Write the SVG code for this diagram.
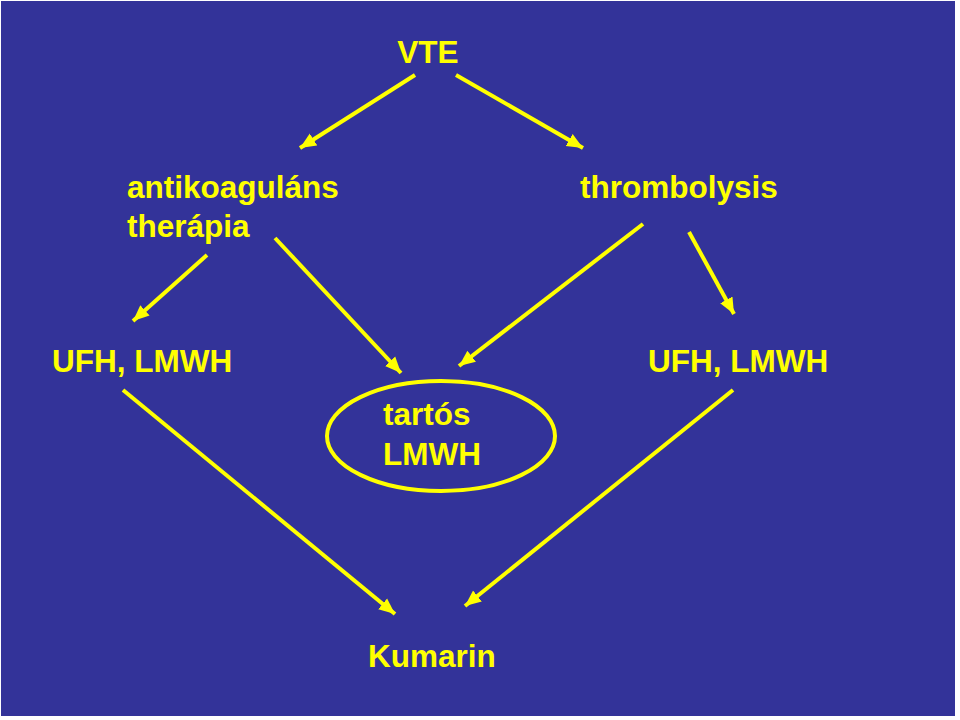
<svg xmlns="http://www.w3.org/2000/svg" width="960" height="720" viewBox="0 0 960 720">
<style>
.t{font-family:"Liberation Sans",Arial,sans-serif;font-weight:bold;font-size:31.5px;fill:#FFFF00}
.c{stroke:#FFFF00;stroke-width:4;fill:none;marker-end:url(#ah)}
</style>
<defs>
<marker id="ah" markerUnits="userSpaceOnUse" markerWidth="18" markerHeight="16" refX="16" refY="8" orient="auto">
<path d="M0,1 L16,8 L0,15 Z" fill="#FFFF00"/>
</marker>
</defs>
<rect x="0" y="0" width="960" height="720" fill="#ffffff"/>
<rect x="1" y="1" width="954" height="715" fill="#333399"/>
<g id="connectors">
<line class="c" x1="415" y1="75" x2="300" y2="148"/>
<line class="c" x1="456" y1="75" x2="583" y2="148"/>
<line class="c" x1="207" y1="255" x2="133" y2="321"/>
<line class="c" x1="275" y1="238" x2="401" y2="373"/>
<line class="c" x1="643" y1="224" x2="459" y2="366"/>
<line class="c" x1="689" y1="232" x2="734" y2="314"/>
<line class="c" x1="123" y1="390" x2="395" y2="614"/>
<line class="c" x1="733" y1="390" x2="465" y2="606"/>
</g>
<g id="vte"><text class="t" x="428" y="63" text-anchor="middle">VTE</text></g>
<g id="antikoagulans"><text class="t" x="127" y="198">antikoaguláns</text><text class="t" x="127" y="237">therápia</text></g>
<g id="thrombolysis"><text class="t" x="580" y="198">thrombolysis</text></g>
<g id="ufh-left"><text class="t" x="52" y="372">UFH, LMWH</text></g>
<g id="ufh-right"><text class="t" x="648" y="372">UFH, LMWH</text></g>
<g id="tartos"><ellipse cx="441" cy="436" rx="114" ry="55" fill="none" stroke="#FFFF00" stroke-width="4"/><text class="t" x="383" y="425">tartós</text><text class="t" x="383" y="465">LMWH</text></g>
<g id="kumarin"><text class="t" x="368" y="667">Kumarin</text></g>
</svg>
